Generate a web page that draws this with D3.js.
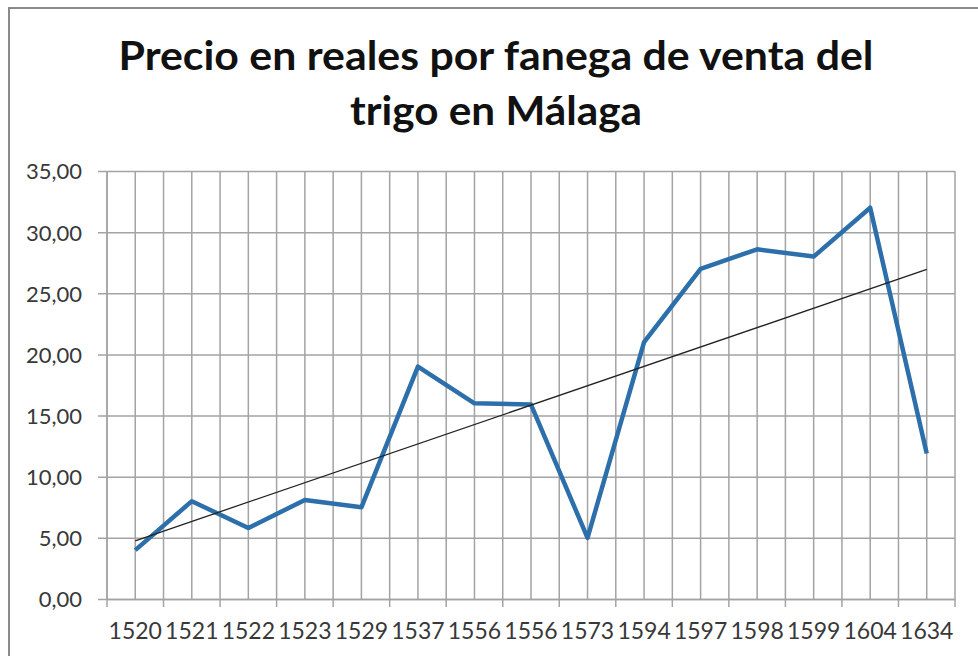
<!DOCTYPE html>
<html>
<head>
<meta charset="utf-8">
<script src="https://cdn.jsdelivr.net/npm/d3@7"></script>
<style>
  html, body { margin: 0; padding: 0; background: #fff; }
  svg { display: block; }
  text { font-family: Lato, "Open Sans", "DejaVu Sans", sans-serif; }
</style>
</head>
<body>
<svg id="chart" width="978" height="656"></svg>
<script>
// Wheat price (reales per fanega) in Málaga, by year of sale
const titleLines = ["Precio en reales por fanega de venta del", "trigo en Málaga"];
const years = ["1520","1521","1522","1523","1529","1537","1556","1556","1573","1594","1597","1598","1599","1604","1634"];
const prices = [4.0, 8.0, 5.8, 8.1, 7.5, 19.0, 16.0, 15.9, 5.0, 21.0, 27.0, 28.6, 28.0, 32.0, 11.9];
const yTicks = [0, 5, 10, 15, 20, 25, 30, 35];

const svg = d3.select("#chart");
const W = 978, H = 656;
const plot = { left: 107, right: 955, top: 171, bottom: 599 };

const gridColor = "#a3a3a3";
const labelColor = "#383838";
const lineColor = "#2d6fab";

// chart area frame
svg.append("rect")
  .attr("x", 9).attr("y", 8)
  .attr("width", W + 20).attr("height", H + 20)
  .attr("fill", "#fff")
  .attr("stroke", "#8a8a8a").attr("stroke-width", 2);

// title
const title = svg.append("g").attr("font-weight", 700).attr("fill", "#111");
const titleWidths = [755, 292];
titleLines.forEach((t, i) => {
  title.append("text")
    .attr("x", 496).attr("y", 70 + i * 55)
    .attr("text-anchor", "middle")
    .attr("font-size", 40)
    .attr("textLength", titleWidths[i])
    .attr("lengthAdjust", "spacingAndGlyphs")
    .text(t);
});

// scales
const x = d3.scaleBand().domain(d3.range(years.length)).range([plot.left, plot.right]).padding(0);
const y = d3.scaleLinear().domain([0, 35]).range([plot.bottom, plot.top]);
const half = x.bandwidth() / 2;

// vertical gridlines at category edges and centres
const vLines = d3.range(years.length * 2 + 1).map(k => plot.left + k * half);
svg.append("g").selectAll("line").data(vLines).join("line")
  .attr("x1", d => d).attr("x2", d => d)
  .attr("y1", plot.top).attr("y2", plot.bottom)
  .attr("stroke", gridColor).attr("stroke-width", 1.5);

// horizontal gridlines + y axis
const yAxis = d3.axisLeft(y)
  .tickValues(yTicks)
  .tickSize(plot.right - plot.left + 9)
  .tickPadding(16)
  .tickFormat(d => d3.format(".2f")(d).replace(".", ","));
const gy = svg.append("g")
  .attr("transform", `translate(${plot.right},0)`)
  .call(yAxis);
gy.select(".domain").remove();
gy.selectAll(".tick line").attr("stroke", gridColor).attr("stroke-width", 1.5);
gy.selectAll(".tick text")
  .attr("fill", labelColor)
  .attr("font-size", 22)
  .attr("dy", "0.36em")
  .style("font-family", "Lato, sans-serif");

// y axis line
svg.append("line")
  .attr("x1", plot.left).attr("x2", plot.left)
  .attr("y1", plot.top).attr("y2", plot.bottom)
  .attr("stroke", gridColor).attr("stroke-width", 1.5);

// x axis: tick marks at category boundaries
const edges = d3.range(years.length + 1).map(k => plot.left + k * x.bandwidth());
svg.append("g").selectAll("line").data(edges).join("line")
  .attr("x1", d => d).attr("x2", d => d)
  .attr("y1", plot.bottom).attr("y2", plot.bottom + 8)
  .attr("stroke", gridColor).attr("stroke-width", 1.5);

// x axis labels
const xAxis = d3.axisBottom(x).tickSize(0).tickPadding(24).tickFormat(i => years[i]);
const gx = svg.append("g")
  .attr("transform", `translate(0,${plot.bottom})`)
  .call(xAxis);
gx.select(".domain").attr("stroke", gridColor).attr("stroke-width", 1.5);
gx.selectAll(".tick text")
  .attr("fill", labelColor)
  .attr("font-size", 23)
  .style("font-family", "Lato, sans-serif");

// price line
const cx = i => x(i) + half;
const line = d3.line().x((d, i) => cx(i)).y(d => y(d));
svg.append("path")
  .datum(prices)
  .attr("d", line)
  .attr("fill", "none")
  .attr("stroke", lineColor)
  .attr("stroke-width", 4.5)
  .attr("stroke-linejoin", "round");

// linear trend (least squares over category index)
const idx = d3.range(prices.length);
const mx = d3.mean(idx), my = d3.mean(prices);
const slope = d3.sum(idx, i => (i - mx) * (prices[i] - my)) / d3.sum(idx, i => (i - mx) ** 2);
const icpt = my - slope * mx;
const first = 0, last = prices.length - 1;
svg.append("line")
  .attr("x1", cx(first)).attr("y1", y(icpt + slope * first))
  .attr("x2", cx(last)).attr("y2", y(icpt + slope * last))
  .attr("stroke", "#222").attr("stroke-width", 1.3);
</script>
</body>
</html>
